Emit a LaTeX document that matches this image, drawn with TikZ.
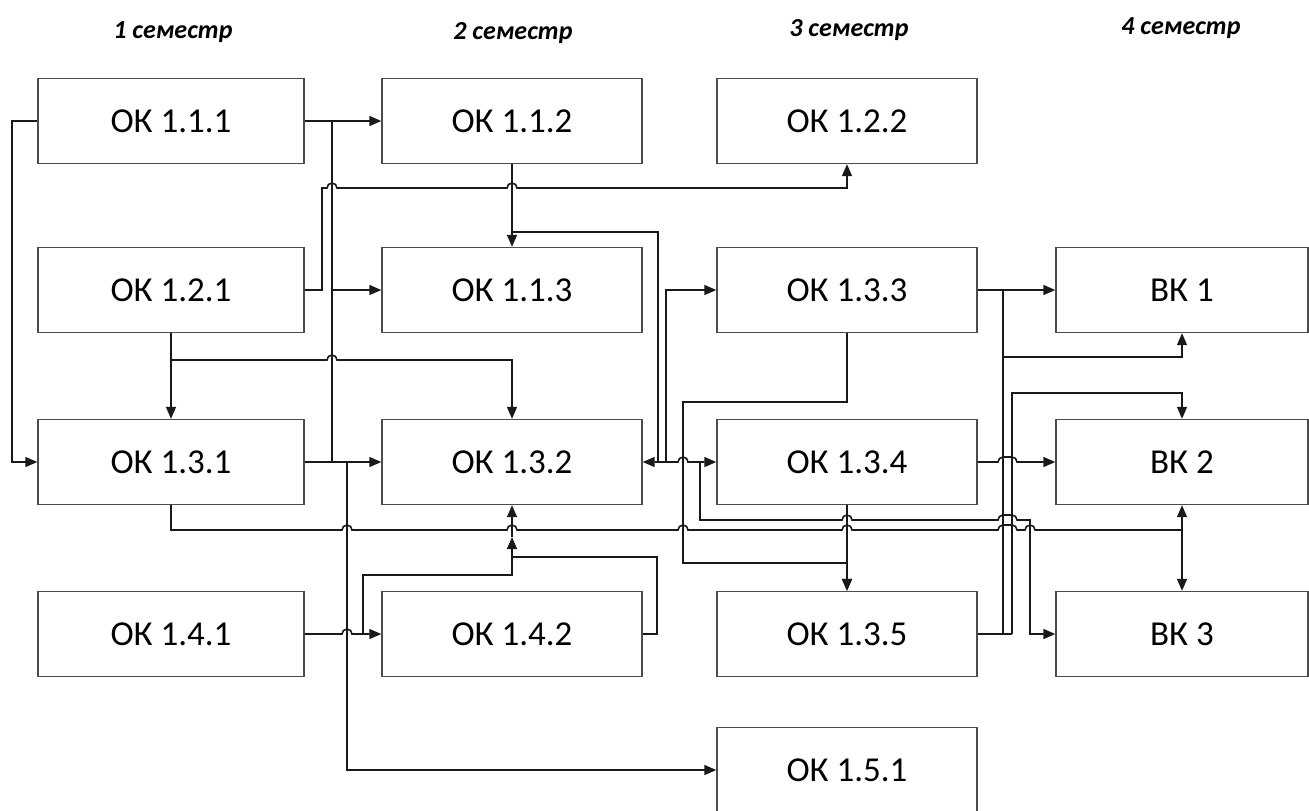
\documentclass[tikz,border=0pt]{standalone}
\usepackage{fontspec}
\setmainfont{Carlito}
\usetikzlibrary{arrows.meta}

\newcommand{\jumpr}[2]{-- (#1-5,#2) arc[start angle=180,end angle=0,radius=2.5pt]}
\newcommand{\jumpw}[3]{-- (#1-5,#3) arc[start angle=180,end angle=90,radius=2.5pt] -- (#2,#3-5) arc[start angle=90,end angle=0,radius=2.5pt]}

\begin{document}
\begin{tikzpicture}[x=0.5pt,y=-0.5pt,
    box/.style={draw=black!70,line width=0.7pt,minimum width=#1,minimum height=42.5pt,inner sep=0pt,font=\fontsize{17.5}{20}\selectfont},
    box/.default=130pt,
    sem/.style={font=\fontsize{13}{15}\selectfont\bfseries\itshape},
    conn/.style={line width=0.8pt,draw=black!90},
    arr/.style={conn,-{Triangle[length=6pt,width=5pt]}},
    arrs/.style={conn,{Triangle[length=6pt,width=5pt]}-{Triangle[length=6pt,width=5pt]}}]
  \useasboundingbox (0,0) rectangle (1309,810);
  \node[sem] (s1) at (173,32) {1 семестр};
  \node[sem] (s2) at (513,33) {2 семестр};
  \node[sem] (s3) at (849,30) {3 семестр};
  \node[sem] (s4) at (1181,28) {4 семестр};

  \node[box=133pt] (o111) at (171,121) {ОК 1.1.1};
  \node[box] (o112) at (512,121) {ОК 1.1.2};
  \node[box] (o122) at (847,121) {ОК 1.2.2};
  \node[box=133pt] (o121) at (171,290) {ОК 1.2.1};
  \node[box] (o113) at (512,290) {ОК 1.1.3};
  \node[box] (o133) at (847,290) {ОК 1.3.3};
  \node[box=126pt] (v1) at (1182,290) {ВК 1};
  \node[box=133pt] (o131) at (171,462) {ОК 1.3.1};
  \node[box] (o132) at (512,462) {ОК 1.3.2};
  \node[box] (o134) at (847,462) {ОК 1.3.4};
  \node[box=126pt] (v2) at (1182,462) {ВК 2};
  \node[box=133pt] (o141) at (171,634) {ОК 1.4.1};
  \node[box] (o142) at (512,634) {ОК 1.4.2};
  \node[box] (o135) at (847,634) {ОК 1.3.5};
  \node[box=126pt] (v3) at (1182,634) {ВК 3};
  \node[box] (o151) at (847,770) {ОК 1.5.1};

  \draw[arr] (o111.east) -- (o112.west);
  \draw[conn] (332,121) -- (332,462);
  \draw[arr] (332,290) -- (o113.west);
  \draw[arr] (o121.east) -| (322,188) \jumpr{332}{188} \jumpr{512}{188} -| (o122.south);
  \draw[arr] (o121.south) -- (o131.north);
  \draw[arr] (171,360) \jumpr{332}{360} -| (o132.north);
  \draw[arr] (o111.west) -- (12,121) |- (o131.west);
  \draw[arr] (o112.south) -- (o113.north);
  \draw[conn] (512,232) -| (658,462);
  \draw[arrs] (o132.east) \jumpr{683}{462} -- (o134.west);
  \draw[arr] (666,462) |- (o133.west);
  \draw[arr] (o133.south) |- (683,402) -- (683,563) -| (o135.north);
  \draw[arr] (o134.south) -- (o135.north);
  \draw[arr] (700,462) -- (700,520) \jumpr{847}{520} \jumpw{1003}{1012}{520} -- (1030,520) |- (v3.west);
  \draw[conn] (o131.south) -- (171,530) \jumpr{347}{530} \jumpr{512}{530} \jumpr{683}{530} \jumpr{847}{530} \jumpw{1003}{1012}{530} \jumpr{1030}{530} -- (1182,530);
  \draw[arrs] (v2.south) -- (v3.north);
  \draw[arr] (o131.east) -- (o132.west);
  \draw[arr] (347,462) |- (o151.west);
  \draw[arr] (o141.east) \jumpr{347}{634} -- (o142.west);
  \draw[arr] (363,634) |- (512,575) -- (512,537);
  \draw[arr] (512,537) -- (o132.south);
  \draw[conn] (o142.east) -| (657,557) -- (512,557);
  \draw[arr] (o133.east) -- (v1.west);
  \draw[conn] (1003,290) -- (1003,634);
  \draw[arr] (1003,357) -| (v1.south);
  \draw[conn] (o135.east) -- (1012,634);
  \draw[arr] (1012,634) -- (1012,393) -| (v2.north);
  \draw[arr] (o134.east) \jumpw{1003}{1012}{462} -- (v2.west);
\end{tikzpicture}
\end{document}
